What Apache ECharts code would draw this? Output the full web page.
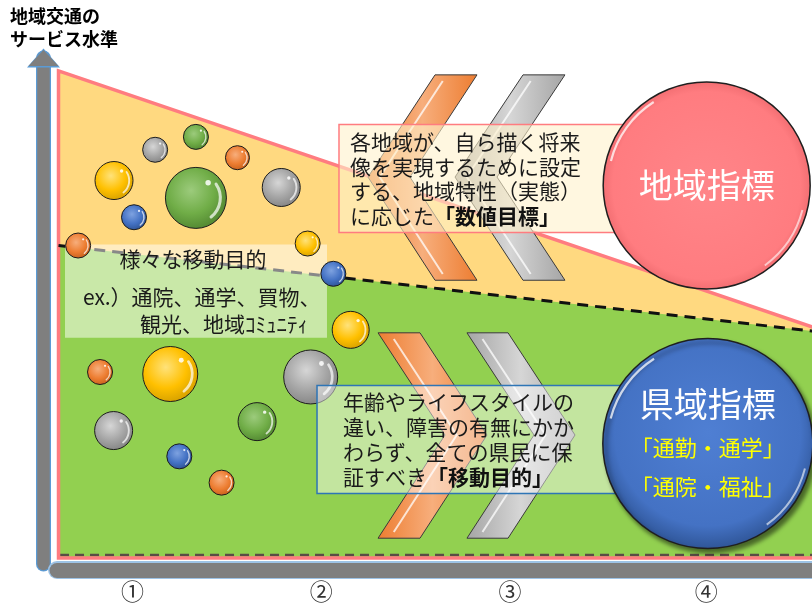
<!DOCTYPE html>
<html><head><meta charset="utf-8">
<script src="https://cdn.jsdelivr.net/npm/echarts@6/dist/echarts.min.js"></script>
<style>html,body{margin:0;padding:0;background:#fff}#c{width:812px;height:603px}</style>
</head><body><div id="c"></div>
<script>
// ---------- data ----------
const axisTitle = '地域交通の\nサービス水準';
const tickLabels = ['①', '②', '③', '④'];
const tickPositions = [10, 35, 60, 86];

// upper bound of the service level (pink line) and the common-purpose level (dashed line)
const regionalLevel = [[0.2, 97.4], [101, 45.3]];
const commonLevel = [[0.2, 62.2], [101, 44.8]];
const baseLevel = -0.8;

// bubbles: various trip purposes
const bubbleKind = ['gold','gray','green','green','orange','gray','blue','orange','gold','blue',
                    'gold','orange','gold','gray','gray','green','blue','orange'];
const bubbleX = [7.55, 13.0, 18.4, 18.4, 23.9, 29.7, 10.2, 2.8, 33.2, 36.6,
                 38.9, 5.7, 15.0, 33.6, 7.5, 26.5, 16.2, 21.8];
const bubbleY = [75.3, 81.5, 84.1, 71.8, 79.9, 73.9, 67.9, 62.2, 62.6, 56.5,
                 45.2, 36.7, 36.3, 35.7, 24.9, 26.7, 19.7, 14.4];
const bubbleValue = [38, 25, 25, 61, 24, 38, 25, 25, 25, 25,
                     37, 25, 55, 54, 38, 38, 25, 25];

// chevrons [TL, TR, MR, BR, BL, ML]
const chevronKind = ['orange', 'gray', 'orange', 'gray'];
const chevrons = [
  [[50.07,96.6],[55.63,96.6],[46.75,76],[55.63,55.2],[50.07,55.2],[41.19,76]],
  [[61.72,96.6],[67.28,96.6],[58.28,76],[67.28,55.2],[61.72,55.2],[52.72,76]],
  [[42.52,44.6],[48.08,44.6],[56.95,24],[48.08,3.2],[42.52,3.2],[51.39,24]],
  [[54.30,44.6],[59.74,44.6],[68.61,24],[59.74,3.2],[54.30,3.2],[63.18,24]]
];

const purposeLines = ['様々な移動目的', 'ex.）通院、通学、買物、', '観光、地域ｺﾐｭﾆﾃｨ'];
const regionalNote = ['各地域が、自ら描く将来', '像を実現するために設定', 'する、地域特性（実態）', 'に応じた{b|「数値目標」}'];
const commonNote = ['年齢やライフスタイルの', '違い、障害の有無にかか', 'わらず、全ての県民に保', '証すべき{b|「移動目的」}'];

const indicatorNames = ['地域指標', '県域指標'];
const indicatorX = [86.05, 86.2];
const indicatorY = [74.3, 22.3];
const indicatorSize = [207, 210];
const indicatorSub = [[], ['「通勤・通学」', '「通院・福祉」']];

// ---------- styles ----------
const FONT = "'Noto Sans CJK JP', 'Noto Sans', sans-serif";
const palette = {
  gold:   ['#FFE27A', '#FFC000', '#D9A300'],
  gray:   ['#D6D6D6', '#A5A5A5', '#878787'],
  green:  ['#9CCB7C', '#70AD47', '#548A33'],
  orange: ['#F7AE7C', '#ED7D31', '#C8621E'],
  blue:   ['#7EA2E0', '#4472C4', '#2F5597']
};
function radial(c) {
  return { type: 'radial', x: 0.42, y: 0.38, r: 0.62,
    colorStops: [{ offset: 0, color: c[0] }, { offset: 0.6, color: c[1] }, { offset: 1, color: c[2] }] };
}
const indicatorFill = [
  { type: 'radial', x: 0.5, y: 0.5, r: 0.5, colorStops: [{ offset: 0, color: '#FF8589' }, { offset: 0.9, color: '#FF7C80' }, { offset: 1, color: '#F26E72' }] },
  { type: 'radial', x: 0.5, y: 0.45, r: 0.55, colorStops: [{ offset: 0, color: '#4F7FD3' }, { offset: 0.8, color: '#4472C4' }, { offset: 1, color: '#2F5597' }] }
];
const indicatorShadow = [
  { shadowBlur: 0, shadowOffsetX: 0, shadowOffsetY: 0, shadowColor: 'rgba(0,0,0,0)' },
  { shadowBlur: 4, shadowOffsetX: 3, shadowOffsetY: 4, shadowColor: 'rgba(0,0,0,0.5)' }
];

function single(name, z, build) {
  return { type: 'custom', name, z, silent: true, clip: false, data: [[0, 0]],
    encode: { x: 0, y: 1 }, renderItem: (params, api) => build(api) };
}
const pts = (api, arr) => arr.map(p => api.coord(p));

const outerPoly = [regionalLevel[0], regionalLevel[1], [regionalLevel[1][0], baseLevel], [regionalLevel[0][0], baseLevel]];
const greenPoly = [commonLevel[0], commonLevel[1], [commonLevel[1][0], baseLevel], [commonLevel[0][0], baseLevel]];

function textBox(api, corner1, corner2, fill, stroke, lines, opt) {
  const a = api.coord(corner1), b = api.coord(corner2);
  const children = [{ type: 'rect', shape: { x: a[0], y: a[1], width: b[0] - a[0], height: b[1] - a[1] },
    style: { fill, stroke: stroke || null, lineWidth: stroke ? 1.5 : 0 } }];
  lines.forEach((t, i) => {
    const L = opt.lines ? opt.lines[i] : null;
    children.push({ type: 'text', style: {
      text: t, x: a[0] + (L ? L.dx : opt.dx), y: a[1] + (L ? L.dy : opt.dy + i * opt.lh),
      align: L && L.align ? L.align : 'left', verticalAlign: 'middle',
      fontSize: opt.fs, fontFamily: FONT, fill: '#1a1a1a',
      rich: { b: { fontSize: opt.fs, fontFamily: FONT, fontWeight: 'bold', fill: '#111' } }
    } });
  });
  return { type: 'group', children };
}

function glossSeries(name, z, xs, ys, sizes, big) {
  return {
    type: 'custom', name, z, silent: true, clip: false,
    data: xs.map((x, i) => [x, ys[i], sizes[i]]),
    encode: { x: 0, y: 1 },
    renderItem: (params, api) => {
      const c = api.coord([api.value(0), api.value(1)]);
      const r = api.value(2) / 2;
      if (big) {
        return { type: 'group', children: [
          { type: 'arc', shape: { cx: c[0], cy: c[1], r: r * 0.955, startAngle: Math.PI * 1.08, endAngle: Math.PI * 1.32 },
            style: { stroke: 'rgba(255,255,255,0.75)', lineWidth: 2.2, fill: null } },
          { type: 'arc', shape: { cx: c[0], cy: c[1], r: r * 0.955, startAngle: Math.PI * 0.08, endAngle: Math.PI * 0.3 },
            style: { stroke: 'rgba(255,255,255,0.6)', lineWidth: 2, fill: null } }
        ] };
      }
      return { type: 'group', children: [
        { type: 'arc', shape: { cx: c[0], cy: c[1], r: r * 0.8, startAngle: -0.6, endAngle: 0.9 },
          style: { stroke: 'rgba(255,255,255,0.7)', lineWidth: Math.max(1.4, r * 0.1), fill: null, lineCap: 'round' } },
        { type: 'circle', shape: { cx: c[0] + r * 0.4, cy: c[1] - r * 0.5, r: Math.max(1, r * 0.09) },
          style: { fill: 'rgba(255,255,255,0.85)' } }
      ] };
    }
  };
}

const series = [
  single('regional', 1, api => ({ type: 'polygon', shape: { points: pts(api, outerPoly) },
    style: { fill: '#FFD980' } })),
  single('common', 2, api => ({ type: 'polygon', shape: { points: pts(api, greenPoly) },
    style: { fill: '#92D050' } })),
  single('lines', 3, api => ({ type: 'group', children: [
    { type: 'polyline', shape: { points: pts(api, [[0.4, -0.2], [101, -0.2]]) },
      style: { stroke: '#5a4d45', lineWidth: 2.5, lineDash: [9, 6], fill: null } },
    { type: 'polygon', shape: { points: pts(api, outerPoly) },
      style: { fill: null, stroke: '#FF7C80', lineWidth: 3.5 } },
    { type: 'polyline', shape: { points: pts(api, commonLevel) },
      style: { stroke: '#111', lineWidth: 3, lineDash: [11, 7], fill: null } }
  ] })),
  single('purposeBox', 4, api => textBox(api, [1.06, 62.4], [35.76, 43.6], 'rgba(255,255,255,0.5)', null, purposeLines,
    { fs: 21, lines: [{ dx: 128, dy: 14, align: 'center' }, { dx: 18, dy: 52 }, { dx: 75, dy: 79 }] })),
  {
    type: 'custom', name: 'chevrons', z: 4, silent: true, clip: false,
    data: chevrons.map((c, i) => [i, 0]),
    encode: { x: 1, y: 1 },
    renderItem: (params, api) => {
      const i = params.dataIndex;
      const p = pts(api, chevrons[i]);
      const c = palette[chevronKind[i]];
      const lerp = (u, v, t) => [u[0] + (v[0] - u[0]) * t, u[1] + (v[1] - u[1]) * t];
      const t = 0.28;
      const s1 = lerp(p[0], p[1], t), s2 = lerp(p[5], p[2], t), s3 = lerp(p[4], p[3], t);
      const sa = lerp(s1, s2, 0.06), sc = lerp(s3, s2, 0.06);
      return { type: 'group', children: [
        { type: 'polygon', shape: { points: p }, style: {
          fill: { type: 'linear', x: 0, y: 0, x2: 1, y2: 0, colorStops: [
            { offset: 0, color: c[1] }, { offset: 0.5, color: c[0] }, { offset: 1, color: c[1] }] },
          stroke: '#3a3a3a', lineWidth: 1 } },
        { type: 'polyline', shape: { points: [sa, s2, sc] },
          style: { stroke: 'rgba(255,255,255,0.75)', lineWidth: 2, fill: null } }
      ] };
    }
  },
  {
    type: 'scatter', name: 'purposes', z: 5, silent: true,
    data: bubbleX.map((x, i) => ({ value: [x, bubbleY[i], bubbleValue[i]],
      itemStyle: { color: radial(palette[bubbleKind[i]]) } })),
    symbolSize: v => v[2],
    itemStyle: { borderColor: '#1c1c1c', borderWidth: 1, opacity: 1 }
  },
  glossSeries('purposeGloss', 5.5, bubbleX, bubbleY, bubbleValue, false),
  single('regionalNote', 6, api => textBox(api, [37.35, 86.6], [77.2, 64.8], 'rgba(255,242,204,0.6)', '#FF7C80', regionalNote,
    { fs: 21, dx: 11, dy: 18, lh: 24.5 })),
  single('commonNote', 6, api => textBox(api, [34.44, 34.0], [77.2, 12.2], 'rgba(255,255,255,0.45)', '#2E75B6', commonNote,
    { fs: 21, dx: 26, dy: 17, lh: 25 })),
  {
    type: 'scatter', name: 'indicators', z: 7, silent: true,
    data: indicatorNames.map((n, i) => ({ value: [indicatorX[i], indicatorY[i], indicatorSize[i]], name: n,
      itemStyle: Object.assign({ color: indicatorFill[i] }, indicatorShadow[i]) })),
    symbolSize: v => v[2],
    itemStyle: { borderColor: '#1f1f1f', borderWidth: 1.5, opacity: 1 },
    label: {
      show: true, position: 'inside',
      formatter: p => {
        const sub = indicatorSub[p.dataIndex].map(s => '{b|' + s + '}');
        return ['{a|' + p.name + '}'].concat(sub).join('\n');
      },
      rich: {
        a: { color: '#fff', fontSize: 34, fontFamily: FONT, lineHeight: 48 },
        b: { color: '#FFFF00', fontSize: 22, fontFamily: FONT, lineHeight: 39 }
      }
    }
  },
  glossSeries('indicatorGloss', 7.5, indicatorX, indicatorY, indicatorSize, true)
];

const chart = echarts.init(document.getElementById('c'), null, { renderer: 'canvas' });
chart.setOption({
  animation: false,
  backgroundColor: '#fff',
  title: { text: axisTitle, left: 5, top: 0,
    textStyle: { fontSize: 18, fontWeight: 'bold', color: '#000', lineHeight: 23, fontFamily: FONT } },
  grid: { left: 57, right: 0, top: 58, bottom: 35, containLabel: false },
  xAxis: [{
    type: 'value', min: 0, max: 100, offset: 6,
    axisLine: { show: true, onZero: false, lineStyle: { color: '#9DC3E6', width: 18 } },
    axisTick: { show: false }, splitLine: { show: false }, axisLabel: { show: false }
  }, {
    type: 'value', min: 0, max: 100, offset: 6, position: 'bottom',
    axisLine: { show: true, onZero: false, lineStyle: { color: '#7F7F7F', width: 15 } },
    axisTick: { show: false }, splitLine: { show: false },
    axisLabel: { customValues: tickPositions, formatter: v => tickLabels[tickPositions.indexOf(v)] || '',
      color: '#333', fontSize: 23, margin: 10, fontFamily: FONT }
  }],
  yAxis: [{
    type: 'value', min: -2, max: 100, offset: 13.5,
    axisLine: { show: true, onZero: false, symbol: ['none', 'triangle'], symbolSize: [33, 19],
      lineStyle: { color: '#5B9BD5', width: 15 } },
    axisTick: { show: false }, splitLine: { show: false }, axisLabel: { show: false }
  }, {
    type: 'value', min: -2, max: 100, offset: 13.5, position: 'left',
    axisLine: { show: true, onZero: false, symbol: ['none', 'triangle'], symbolSize: [30, 16],
      lineStyle: { color: '#7F7F7F', width: 12.5 } },
    axisTick: { show: false }, splitLine: { show: false }, axisLabel: { show: false }
  }],
  series
});
</script></body></html>
